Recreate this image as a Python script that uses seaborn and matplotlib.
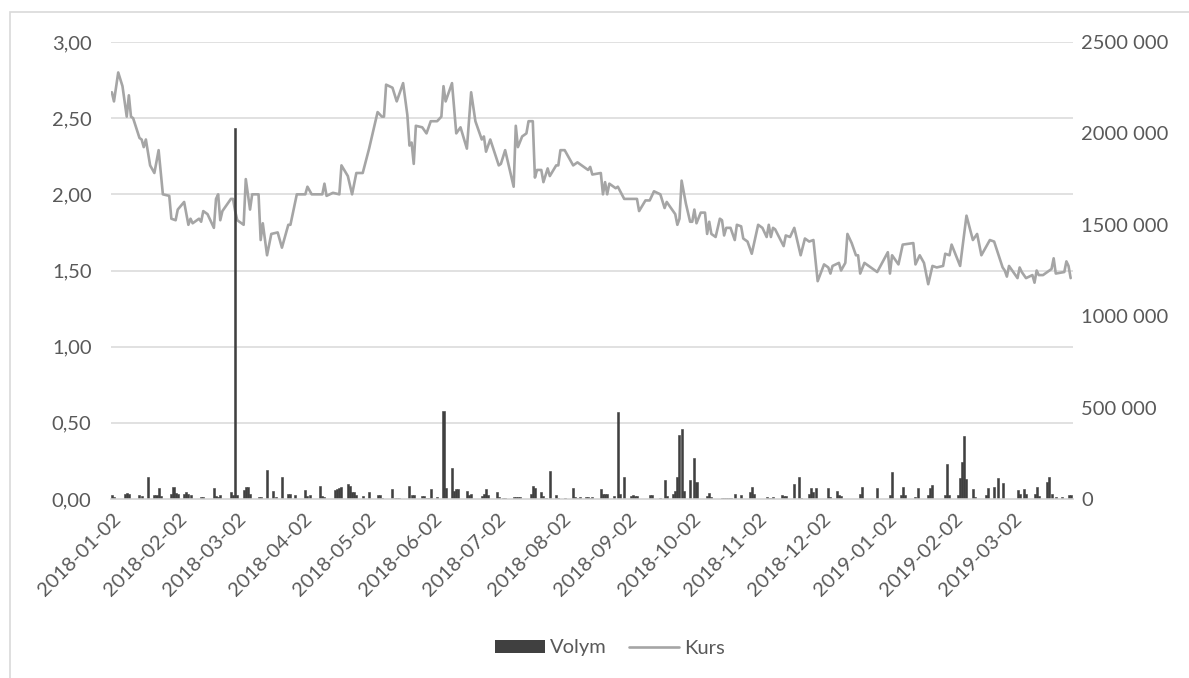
import numpy as np
import pandas as pd
import matplotlib
matplotlib.use("Agg")
import matplotlib.pyplot as plt
import matplotlib.dates as mdates
from matplotlib.patches import Patch, Rectangle
from matplotlib.lines import Line2D
import seaborn as sns

####data####
start = "2018-01-02"

# Kurs at turning points (days after 2018-01-02)
kurs_day = [0, 1, 3, 5, 7, 8, 9, 10, 13, 14, 15, 16, 18, 20, 22, 24, 27, 28, 30, 31,
            34, 36, 37, 38, 41, 42, 43, 45, 48, 49, 50, 51, 52, 56, 57, 58, 59, 62, 63, 65,
            66, 69, 70, 71, 73, 75, 78, 80, 83, 84, 87, 91, 92, 94, 99, 100, 101, 104, 107, 108,
            111, 113, 115, 118, 121, 125, 127, 128, 129, 132, 134, 137, 139, 140, 141, 142, 143, 146, 148, 150,
            153, 155, 156, 157, 160, 162, 164, 167, 169, 171, 174, 175, 176, 178, 182, 183, 185, 189, 190, 191,
            193, 195, 196, 198, 199, 200, 202, 203, 205, 206, 209, 210, 211, 213, 217, 219, 224, 225, 226, 230,
            231, 232, 233, 234, 237, 238, 241, 247, 248, 251, 253, 255, 258, 260, 261, 263, 265, 266, 267, 268,
            270, 272, 273, 274, 275, 277, 279, 280, 281, 282, 284, 286, 287, 288, 289, 291, 293, 294, 296, 297,
            299, 301, 304, 306, 308, 309, 310, 311, 312, 316, 317, 319, 321, 324, 326, 328, 330, 332, 335, 337,
            338, 339, 342, 343, 345, 346, 348, 350, 351, 352, 354, 360, 365, 366, 367, 370, 372, 377, 378, 380,
            382, 384, 386, 388, 391, 392, 394, 395, 399, 402, 405, 407, 409, 413, 415, 419, 420, 421, 422, 426,
            427, 428, 430, 433, 434, 435, 436, 438, 442, 443, 444, 448, 449, 450, 451]
kurs = [2.67, 2.61, 2.80, 2.71, 2.51, 2.65, 2.51, 2.50, 2.37, 2.36, 2.31, 2.36, 2.19, 2.14, 2.29, 2.00, 1.99, 1.84, 1.83, 1.90,
        1.95, 1.80, 1.84, 1.81, 1.84, 1.82, 1.89, 1.87, 1.78, 1.97, 2.00, 1.83, 1.89, 1.97, 1.97, 1.89, 1.83, 1.80, 2.10, 1.90,
        2.00, 2.00, 1.70, 1.81, 1.60, 1.74, 1.75, 1.65, 1.80, 1.80, 2.00, 2.00, 2.05, 2.00, 2.00, 2.07, 1.99, 2.01, 2.00, 2.19,
        2.12, 2.00, 2.14, 2.14, 2.30, 2.54, 2.51, 2.51, 2.72, 2.70, 2.61, 2.73, 2.52, 2.32, 2.34, 2.20, 2.45, 2.44, 2.40, 2.48,
        2.48, 2.51, 2.71, 2.61, 2.73, 2.40, 2.44, 2.30, 2.67, 2.48, 2.36, 2.38, 2.28, 2.36, 2.19, 2.20, 2.29, 2.05, 2.45, 2.31,
        2.38, 2.40, 2.48, 2.48, 2.11, 2.16, 2.16, 2.08, 2.17, 2.12, 2.19, 2.19, 2.29, 2.29, 2.19, 2.21, 2.16, 2.18, 2.13, 2.14,
        2.00, 2.08, 2.00, 2.07, 2.04, 2.05, 1.97, 1.97, 1.89, 1.96, 1.96, 2.02, 2.00, 1.91, 1.95, 1.91, 1.87, 1.80, 1.84, 2.09,
        1.94, 1.82, 1.82, 1.90, 1.81, 1.88, 1.88, 1.74, 1.82, 1.74, 1.72, 1.84, 1.83, 1.73, 1.78, 1.78, 1.70, 1.80, 1.79, 1.71,
        1.69, 1.61, 1.80, 1.78, 1.72, 1.80, 1.72, 1.78, 1.77, 1.66, 1.73, 1.72, 1.78, 1.60, 1.71, 1.69, 1.70, 1.43, 1.54, 1.52,
        1.48, 1.53, 1.55, 1.50, 1.55, 1.74, 1.68, 1.60, 1.60, 1.48, 1.55, 1.49, 1.62, 1.48, 1.60, 1.54, 1.67, 1.68, 1.54, 1.60,
        1.55, 1.41, 1.53, 1.52, 1.53, 1.61, 1.60, 1.67, 1.53, 1.86, 1.70, 1.74, 1.60, 1.70, 1.69, 1.52, 1.50, 1.46, 1.53, 1.45,
        1.52, 1.49, 1.45, 1.47, 1.42, 1.50, 1.47, 1.47, 1.51, 1.58, 1.48, 1.49, 1.56, 1.53, 1.45]

# Volym (days after 2018-01-02)
volym_day = [0, 1, 6, 7, 8, 13, 14, 17, 20, 21, 22, 23, 28, 29, 30, 31, 34, 35, 36, 37,
             42, 43, 48, 49, 50, 51, 56, 57, 58, 59, 62, 63, 64, 65, 69, 70, 73, 76, 77, 80,
             83, 84, 86, 91, 92, 93, 98, 99, 100, 105, 106, 107, 108, 111, 112, 113, 114, 115, 118, 121,
             125, 126, 127, 132, 133, 134, 135, 140, 141, 142, 146, 147, 148, 149, 150, 153, 156, 157, 160, 161,
             162, 163, 167, 168, 169, 174, 175, 176, 177, 181, 182, 184, 185, 189, 190, 191, 192, 197, 198, 199,
             202, 203, 204, 206, 209, 210, 213, 217, 218, 219, 220, 223, 224, 225, 226, 230, 231, 232, 233, 236,
             238, 239, 241, 244, 245, 246, 247, 253, 254, 258, 260, 261, 264, 265, 266, 267, 268, 269, 272, 274,
             275, 280, 281, 282, 287, 288, 289, 290, 291, 293, 296, 300, 301, 302, 308, 309, 310, 311, 315, 316,
             317, 321, 323, 324, 328, 329, 330, 331, 337, 338, 341, 342, 343, 352, 353, 360, 366, 367, 371, 372,
             373, 378, 379, 384, 385, 386, 392, 393, 394, 398, 399, 400, 401, 402, 405, 406, 411, 412, 415, 417,
             419, 426, 427, 429, 430, 434, 435, 436, 440, 441, 442, 444, 447, 450, 451]
volym = [20000, 10000, 25000, 35000, 30000, 20000, 15000, 118000, 20000, 20000, 58000, 15000, 30000, 67000, 35000, 25000, 25000, 40000, 30000, 20000,
         10000, 13000, 58000, 15000, 12000, 20000, 40000, 20000, 2030000, 22000, 50000, 64000, 64000, 30000, 12000, 12000, 158000, 45000, 10000, 118000,
         25000, 25000, 20000, 49000, 15000, 22000, 71000, 15000, 10000, 50000, 53000, 60000, 67000, 82000, 70000, 40000, 40000, 20000, 18000, 40000,
         20000, 22000, 8000, 53000, 5000, 5000, 5000, 73000, 22000, 20000, 15000, 15000, 7000, 7000, 53000, 9000, 483000, 58000, 170000, 45000,
         53000, 53000, 45000, 20000, 25000, 15000, 25000, 53000, 20000, 36000, 12000, 7000, 7000, 12000, 12000, 12000, 12000, 30000, 71000, 58000,
         36000, 15000, 7000, 153000, 22000, 8000, 5000, 58000, 12000, 8000, 12000, 10000, 12000, 8000, 10000, 53000, 30000, 30000, 30000, 18000,
         478000, 30000, 122000, 15000, 22000, 15000, 15000, 22000, 22000, 8000, 104000, 15000, 30000, 45000, 122000, 350000, 383000, 45000, 104000, 222000,
         95000, 15000, 35000, 12000, 3000, 3000, 3000, 3000, 3000, 27000, 22000, 40000, 67000, 30000, 12000, 8000, 8000, 12000, 22000, 18000,
         15000, 82000, 122000, 5000, 30000, 58000, 40000, 58000, 62000, 10000, 45000, 20000, 18000, 25000, 67000, 58000, 20000, 146000, 22000, 67000,
         22000, 10000, 62000, 20000, 58000, 77000, 20000, 190000, 20000, 20000, 113000, 204000, 345000, 109000, 53000, 12000, 20000, 58000, 64000, 113000,
         85000, 49000, 25000, 55000, 27000, 30000, 67000, 15000, 95000, 118000, 25000, 12000, 12000, 22000, 20000]

month_labels = ["2018-01-02", "2018-02-02", "2018-03-02", "2018-04-02", "2018-05-02",
                "2018-06-02", "2018-07-02", "2018-08-02", "2018-09-02", "2018-10-02",
                "2018-11-02", "2018-12-02", "2019-01-02", "2019-02-02", "2019-03-02"]
kurs_ticks = [0, 0.5, 1.0, 1.5, 2.0, 2.5, 3.0]
kurs_tick_labels = ["0,00", "0,50", "1,00", "1,50", "2,00", "2,50", "3,00"]
volym_ticks = [0, 500000, 1000000, 1500000, 2000000, 2500000]
volym_tick_labels = ["0", "500 000", "1000 000", "1500 000", "2000 000", "2500 000"]

####figure settings####
sns.set_style("white")
plt.rcParams["font.family"] = ["Lato", "DejaVu Sans"]
text_c = "#595959"
grid_c = "#d9d9d9"
bar_c = "#404040"

base = mdates.date2num(pd.Timestamp(start))
df_kurs = pd.DataFrame({"x": base + np.array(kurs_day, dtype=float), "Kurs": kurs})
df_vol = pd.DataFrame({"x": base + np.array(volym_day, dtype=float), "Volym": volym})

fig = plt.figure(figsize=(11.89, 6.78), dpi=100)
fig.subplots_adjust(left=111/1189, right=1073/1189, top=1-42/678, bottom=1-499/678)
ax = fig.add_subplot(111)

# chart area frame (only top and left visible in the screenshot)
fig.patches.append(Rectangle((10/1189, -0.1), 1.2, 0.1 + 1 - 12/678, transform=fig.transFigure,
                             fill=False, edgecolor=grid_c, linewidth=1.2, zorder=0))

for t in kurs_ticks[1:]:
    ax.axhline(t, color=grid_c, linewidth=1.1, zorder=0)

sns.lineplot(data=df_kurs, x="x", y="Kurs", color="#a5a5a5", linewidth=1.9, ax=ax, zorder=2)

ax2 = ax.twinx()
sns.barplot(data=df_vol, x="x", y="Volym", native_scale=True, width=0.95, color=bar_c,
            saturation=1, errorbar=None, edgecolor=bar_c, linewidth=0.4, ax=ax2)

####modify axes####
ax.set_xlim(base - 0.4, base + 452.1)
ax.set_ylim(0, 3)
ax2.set_ylim(0, 2500000)

ax.set_yticks(kurs_ticks)
ax.set_yticklabels(kurs_tick_labels)
ax2.set_yticks(volym_ticks)
ax2.set_yticklabels(volym_tick_labels)

xt = [mdates.date2num(pd.Timestamp(s)) for s in month_labels]
ax.set_xticks(xt)
ax.set_xticklabels(month_labels, rotation=45, ha="right", rotation_mode="anchor")
ax2.set_xlim(base - 0.4, base + 452.1)

for a in (ax, ax2):
    for s in ("top", "left", "right"):
        a.spines[s].set_visible(False)
    a.spines["bottom"].set_color(grid_c)
    a.spines["bottom"].set_linewidth(1.1)
    a.set_xlabel("")
    a.set_ylabel("")

ax.tick_params(axis="x", length=4, width=1.1, color=grid_c, labelsize=14.5, labelcolor=text_c, pad=4)
ax.tick_params(axis="y", length=0, labelsize=14.5, labelcolor=text_c, pad=14)
ax2.tick_params(axis="y", length=0, labelsize=14.5, labelcolor=text_c, pad=6)
ax2.tick_params(axis="x", length=0, labelbottom=False)

handles = [Patch(facecolor=bar_c, edgecolor="none"),
           Line2D([0], [0], color="#a5a5a5", linewidth=1.9)]
fig.legend(handles, ["Volym", "Kurs"], loc="center", bbox_to_anchor=(610/1189, 1-648/678),
           ncol=2, frameon=False, fontsize=14.5, labelcolor=text_c,
           handlelength=2.5, handleheight=0.6, handletextpad=0.25, columnspacing=1.1)

plt.savefig("out.png", dpi=100)
